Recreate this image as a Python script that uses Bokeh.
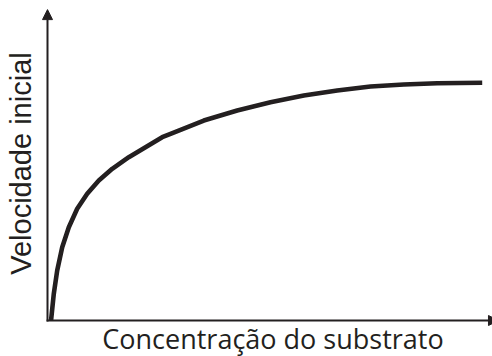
from math import pi
from bokeh.plotting import figure
from bokeh.models import Range1d, Arrow, NormalHead, Label
from bokeh.embed import file_html
from bokeh.resources import INLINE

# Substrate concentration (arbitrary units) and initial velocity
concentracao = [0.08, 0.142, 0.219, 0.332, 0.481, 0.670, 0.896, 1.158, 1.461, 1.835,
                2.212, 2.589, 2.777, 3.528, 4.282, 5.034, 5.786, 6.540, 7.291, 8.043,
                8.797, 9.813]
velocidade = [0.00, 0.873, 1.634, 2.395, 3.049, 3.650, 4.141, 4.575, 4.958, 5.337,
              5.663, 5.990, 6.101, 6.536, 6.863, 7.134, 7.353, 7.516, 7.647, 7.712,
              7.755, 7.768]

x_label = "Concentração do substrato"
y_label = "Velocidade inicial"

# axis extents (data units)
x_axis_end = 10.18
y_axis_end = 10.16

INK = "#231f20"

p = figure(width=492, height=356, output_backend="svg", toolbar_location=None,
           x_range=Range1d(-1.061, 10.045), y_range=Range1d(-1.176, 10.458),
           min_border=0, outline_line_color=None, background_fill_color="white",
           border_fill_color="white")
p.axis.visible = False
p.grid.visible = False

# axes with arrow heads
p.add_layout(Arrow(end=NormalHead(size=10, fill_color=INK, line_color=INK, line_width=1),
                   x_start=0, y_start=-0.03, x_end=0, y_end=y_axis_end,
                   line_color=INK, line_width=2))
p.add_layout(Arrow(end=NormalHead(size=10, fill_color=INK, line_color=INK, line_width=1),
                   x_start=-0.02, y_start=0, x_end=x_axis_end, y_end=0,
                   line_color=INK, line_width=2))

p.line(concentracao, velocidade, line_color=INK, line_width=4.6, line_join="round")

p.add_layout(Label(x=-0.587, y=5.13, text=y_label, angle=pi / 2,
                   text_align="center", text_baseline="middle",
                   text_font="Liberation Sans", text_font_size="29px", text_color=INK))
p.add_layout(Label(x=5.09, y=-0.588, text=x_label,
                   text_align="center", text_baseline="middle",
                   text_font="Open Sans", text_font_size="27px", text_color=INK))

open("out.html", "w").write(file_html(p, INLINE))
